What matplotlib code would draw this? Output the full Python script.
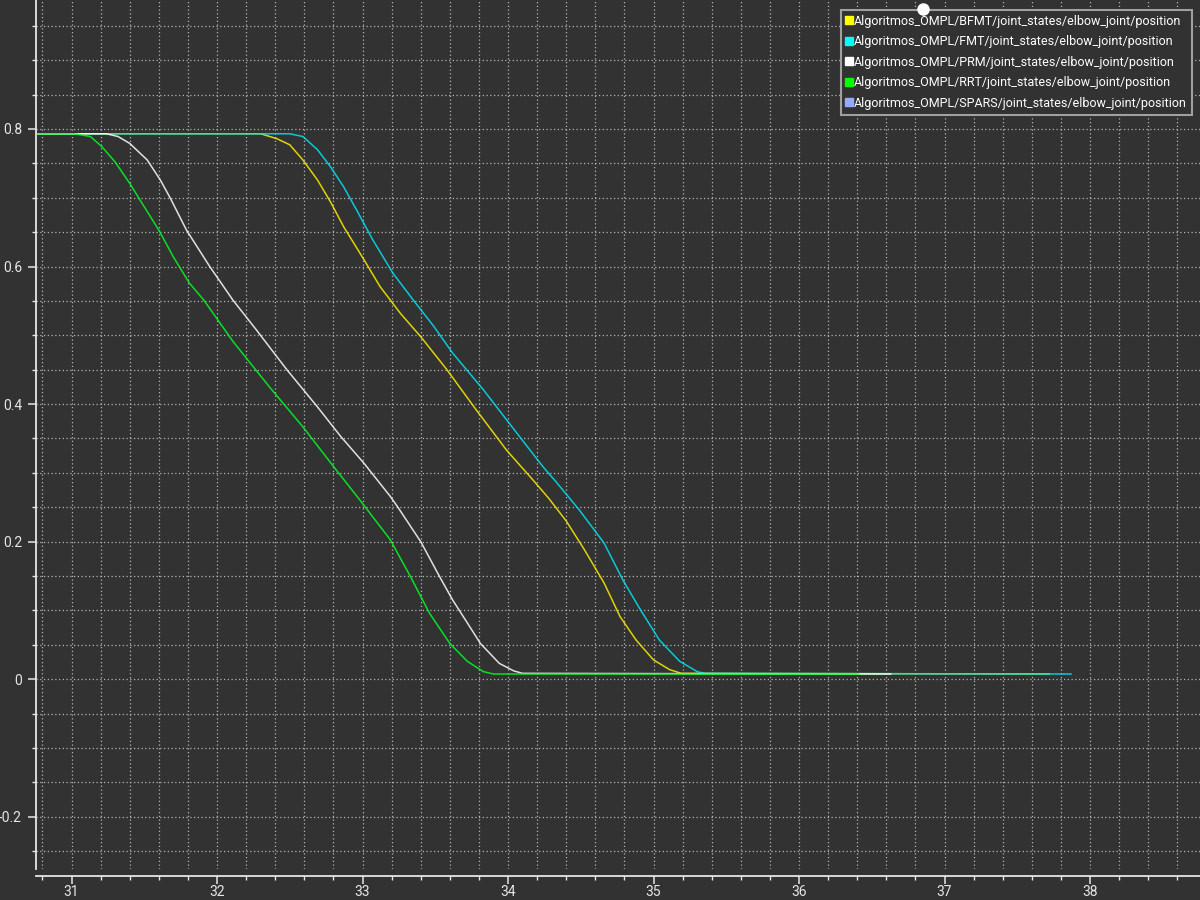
import matplotlib.pyplot as plt
from matplotlib.lines import Line2D
from matplotlib.ticker import MultipleLocator

plt.rcParams['font.family'] = ['Roboto', 'DejaVu Sans']

# Dados (tempo [s], posição [rad])
bfmt_t = [30.77, 32.30, 32.41, 32.50, 32.59, 32.69, 32.78, 32.87, 33.01, 33.12, 33.26, 33.40,
          33.58, 33.78, 33.99, 34.17, 34.28, 34.40, 34.52, 34.66, 34.77, 34.88, 35.00, 35.11,
          35.19, 37.72]
bfmt_y = [0.793, 0.793, 0.786, 0.777, 0.755, 0.726, 0.694, 0.658, 0.610, 0.571, 0.532, 0.498,
          0.450, 0.392, 0.333, 0.290, 0.263, 0.230, 0.190, 0.140, 0.091, 0.057, 0.028, 0.014,
          0.0085, 0.0075]

fmt_t = [30.77, 32.50, 32.59, 32.69, 32.78, 32.87, 32.96, 33.07, 33.21, 33.35, 33.49, 33.62,
         33.83, 34.06, 34.24, 34.33, 34.49, 34.66, 34.79, 34.91, 35.04, 35.18, 35.30, 35.35,
         37.87]
fmt_y = [0.793, 0.793, 0.789, 0.770, 0.745, 0.716, 0.682, 0.639, 0.590, 0.551, 0.513, 0.474,
         0.421, 0.358, 0.309, 0.287, 0.246, 0.198, 0.144, 0.101, 0.057, 0.026, 0.011, 0.0085,
         0.0075]

prm_t = [30.77, 31.24, 31.32, 31.40, 31.52, 31.61, 31.68, 31.79, 31.95, 32.11, 32.27, 32.48,
         32.69, 32.85, 33.01, 33.19, 33.24, 33.40, 33.53, 33.62, 33.72, 33.81, 33.94, 34.04,
         34.10, 36.63]
prm_y = [0.793, 0.793, 0.789, 0.779, 0.755, 0.726, 0.699, 0.653, 0.600, 0.551, 0.508, 0.450,
         0.396, 0.353, 0.314, 0.266, 0.251, 0.200, 0.149, 0.115, 0.082, 0.052, 0.023, 0.012,
         0.0085, 0.0075]

rrt_t = [30.77, 31.02, 31.13, 31.21, 31.30, 31.40, 31.47, 31.60, 31.70, 31.81, 31.91, 32.11,
         32.36, 32.59, 32.82, 32.98, 33.19, 33.33, 33.46, 33.60, 33.72, 33.83, 33.90, 36.41]
rrt_y = [0.793, 0.793, 0.789, 0.774, 0.752, 0.721, 0.697, 0.653, 0.614, 0.576, 0.551, 0.491,
         0.425, 0.367, 0.304, 0.261, 0.203, 0.149, 0.096, 0.052, 0.026, 0.011, 0.0075, 0.0075]

labels = ['Algoritmos_OMPL/BFMT/joint_states/elbow_joint/position',
          'Algoritmos_OMPL/FMT/joint_states/elbow_joint/position',
          'Algoritmos_OMPL/PRM/joint_states/elbow_joint/position',
          'Algoritmos_OMPL/RRT/joint_states/elbow_joint/position',
          'Algoritmos_OMPL/SPARS/joint_states/elbow_joint/position']
line_colors = ['#ffee00', '#00e5f5', '#ffffff', '#00ff22']
legend_colors = ['#ffff00', '#00ffff', '#ffffff', '#00ff00', '#96aaff']

bg = '#323232'
fg = '#e6e6e6'

fig = plt.figure(figsize=(12, 9), dpi=100, facecolor=bg)
ax = fig.add_axes([36 / 1200, 31 / 900, 1164 / 1200, 869 / 900])
ax.set_facecolor(bg)

series = [(bfmt_t, bfmt_y), (fmt_t, fmt_y), (prm_t, prm_y), (rrt_t, rrt_y)]
for (t, y), c in zip(series, line_colors):
    ax.plot(t, y, color=c, lw=1.1, alpha=0.85, solid_joinstyle='round')

ax.set_xlim(30.756, 38.756)
ax.set_ylim(-0.276, 0.9875)

ax.xaxis.set_major_locator(MultipleLocator(1))
ax.xaxis.set_minor_locator(MultipleLocator(0.2))
ax.yaxis.set_major_locator(MultipleLocator(0.2))
ax.yaxis.set_minor_locator(MultipleLocator(0.05))
ax.yaxis.set_major_formatter(lambda v, p: '0' if abs(v) < 1e-9 else ('%g' % round(v, 2)))

ax.grid(True, which='both', color='#b4b4b4', linestyle=(0, (1, 2)), lw=0.9)
ax.set_axisbelow(True)

for s in ['top', 'right']:
    ax.spines[s].set_visible(False)
ax.spines['left'].set_color(fg)
ax.spines['bottom'].set_color(fg)
ax.spines['left'].set_linewidth(1.3)
ax.spines['bottom'].set_linewidth(1.3)
ax.spines['bottom'].set_position(('outward', 5))

ax.tick_params(which='major', colors=fg, length=6, width=1.1, labelsize=10)
ax.tick_params(which='minor', colors=fg, length=3, width=1.0)
ax.tick_params(axis='x', which='major', pad=0.5)
ax.tick_params(axis='y', which='major', pad=4)

handles = [Line2D([], [], ls='none', marker='s', ms=6, mfc=c, mec=c) for c in legend_colors]
leg = ax.legend(handles, labels, loc='upper right', bbox_to_anchor=(0.993, 0.989),
                frameon=True, fancybox=False, facecolor=bg, edgecolor='#a0a0a0',
                framealpha=1, fontsize=9, labelcolor='white', handlelength=0.5,
                handletextpad=0.15, labelspacing=0.6, borderpad=0.4, borderaxespad=0)
leg.get_frame().set_linewidth(1.5)

# marcador de posição no topo
ax.plot([0.762], [0.99], 'o', color='white', ms=8, transform=ax.transAxes,
        clip_on=False, zorder=10)

fig.savefig('out.png', dpi=100, facecolor=bg)
